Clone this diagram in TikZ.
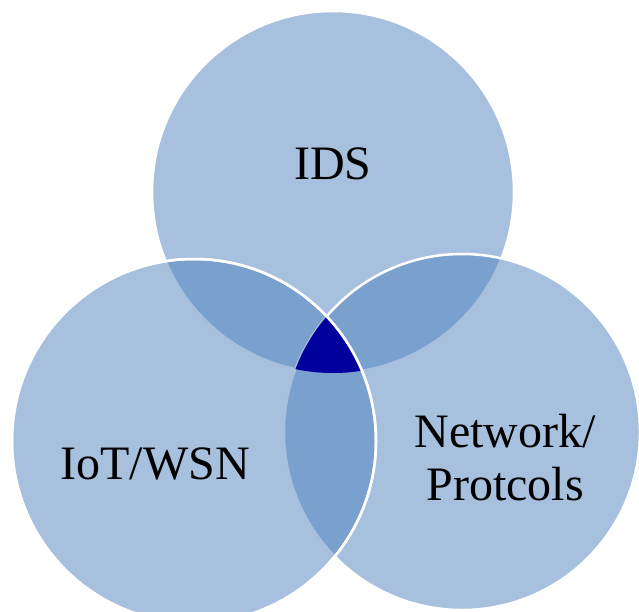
\documentclass[tikz,border=0pt]{standalone}
\usepackage{fontspec}
\setmainfont{Liberation Serif}
\definecolor{VennBlue}{HTML}{4F81BD}
\definecolor{CoreBlue}{HTML}{00009C}

\begin{document}
\begin{tikzpicture}[x=1pt, y=-1pt,
			every node/.style={inner sep=0pt},
			venn/.style={circle, draw=white, line width=2.5pt, fill=VennBlue, fill opacity=.5},
			label/.style={font=\fontsize{48}{53}\selectfont, align=center, text=black}
		]
			\useasboundingbox (0,0) rectangle (639,611);

			% the three sets, drawn top, right, left
			\node (ids) [venn, minimum size=362pt] at (333,192) {};
			\node (net) [venn, minimum size=356pt] at (462,432) {};
			\node (iot) [venn, minimum size=364pt] at (194,441) {};

			% common part of all three
			\begin{scope}
				\clip (ids.center) circle (181pt);
				\clip (iot.center) circle (182pt);
				\fill[CoreBlue] (net.center) circle (178pt);
			\end{scope}
			\draw[white, line width=2.5pt] (iot.center) circle (182pt);

			\node (idsLabel) [label, anchor=base] at (333,179) {IDS};
			\node (iotLabel) [label, anchor=base] at (155,479) {IoT/WSN};
			\node (netLabel) [label] at (505,458) {Network/\\Protcols};
		\end{tikzpicture}
\end{document}
